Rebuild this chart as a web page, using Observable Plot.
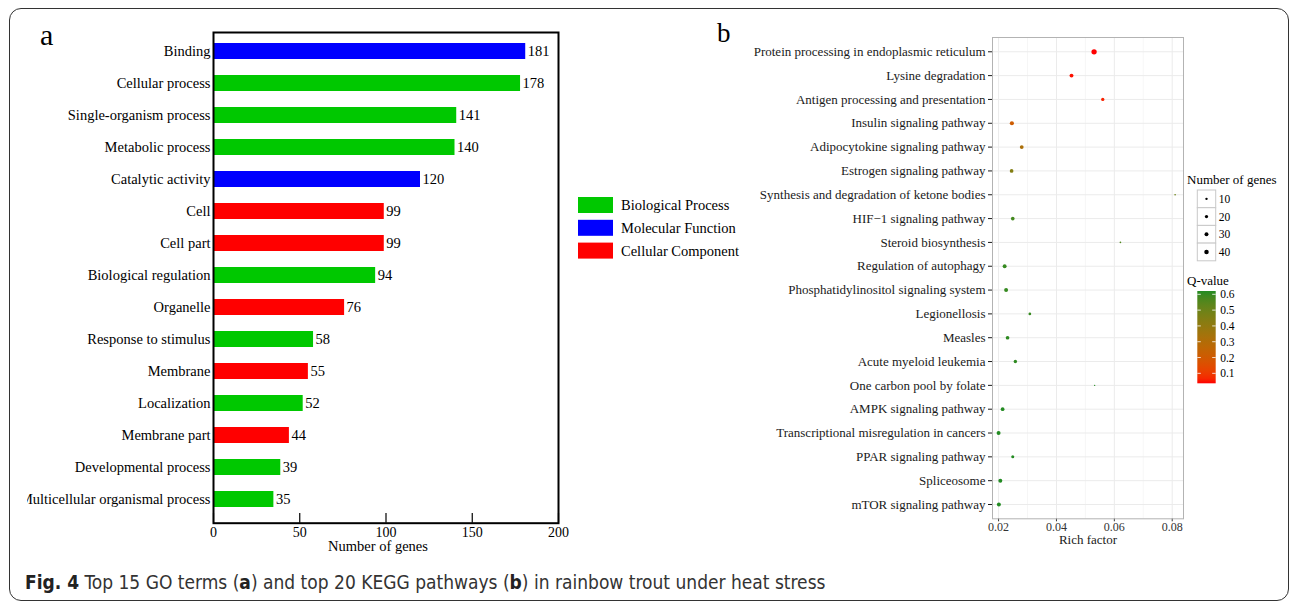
<!DOCTYPE html>
<html>
<head>
<meta charset="utf-8">
<script src="https://cdn.jsdelivr.net/npm/d3@7"></script>
<script src="https://cdn.jsdelivr.net/npm/@observablehq/plot@0.6"></script>
<style>
  html, body { margin: 0; padding: 0; background: #fff; }
  #page { position: relative; width: 1292px; height: 605px; overflow: hidden; background: #fff; }
  .abs { position: absolute; }
  #border { position: absolute; left: 9px; top: 8px; width: 1280px; height: 593px; box-sizing: border-box;
            border: 1.6px solid #333; border-radius: 12px; }
  #caption { position: absolute; left: 25px; top: 570px; font-family: "Liberation Sans Narrow", "DejaVu Sans Condensed", "Open Sans", sans-serif;
             font-size: 19px; line-height: 24px; color: #333; white-space: nowrap; }
  #caption b { color: #222; }
  .panelLetter { position: absolute; font-family: "Liberation Serif", serif; color: #000; line-height: 1; }
</style>
</head>
<body>
<div id="page">
  <div id="border"></div>
  <div class="panelLetter" style="left:40px; top:20px; font-size:30px;">a</div>
  <div class="panelLetter" style="left:717px; top:20px; font-size:27px;">b</div>
  <div id="panelA" class="abs" style="left:27px; top:0px; width:560px; height:560px; overflow:hidden;"></div>
  <div id="legendA" class="abs" style="left:570px; top:185px;"></div>
  <div id="panelB" class="abs" style="left:700px; top:0px;"></div>
  <div id="legendB" class="abs" style="left:1180px; top:165px;"></div>
  <div id="caption"><b>Fig. 4</b> Top 15 GO terms (<b>a</b>) and top 20 KEGG pathways (<b>b</b>) in rainbow trout under heat stress</div>
</div>
<script>
// ---------- Panel a data ----------
const goTerms = ["Binding","Cellular process","Single-organism process","Metabolic process","Catalytic activity","Cell","Cell part","Biological regulation","Organelle","Response to stimulus","Membrane","Localization","Membrane part","Developmental process","Multicellular organismal process"];
const goCounts = [181,178,141,140,120,99,99,94,76,58,55,52,44,39,35];
const goCategory = ["Molecular Function","Biological Process","Biological Process","Biological Process","Molecular Function","Cellular Component","Cellular Component","Biological Process","Cellular Component","Biological Process","Cellular Component","Biological Process","Cellular Component","Biological Process","Biological Process"];
const goCategoryNames = ["Biological Process","Molecular Function","Cellular Component"];
const goColors = ["#00C800","#0000FF","#FF0000"];
const xTicksA = [0,50,100,150,200];

// ---------- Panel b data ----------
const keggPathways = ["Protein processing in endoplasmic reticulum","Lysine degradation","Antigen processing and presentation","Insulin signaling pathway","Adipocytokine signaling pathway","Estrogen signaling pathway","Synthesis and degradation of ketone bodies","HIF\u22121 signaling pathway","Steroid biosynthesis","Regulation of autophagy","Phosphatidylinositol signaling system","Legionellosis","Measles","Acute myeloid leukemia","One carbon pool by folate","AMPK signaling pathway","Transcriptional misregulation in cancers","PPAR signaling pathway","Spliceosome","mTOR signaling pathway"];
const keggRich = [0.0530,0.0452,0.0560,0.0246,0.0280,0.0245,0.0810,0.0249,0.0621,0.0221,0.0226,0.0308,0.0231,0.0258,0.0532,0.0214,0.0200,0.0249,0.0206,0.0201];
const keggGenes = [58,30,20,34,28,26,4,26,4,30,30,13,26,22,3,27,31,17,31,31];
const keggQ = [0.037,0.045,0.060,0.210,0.320,0.440,0.500,0.580,0.560,0.600,0.600,0.600,0.610,0.610,0.620,0.620,0.620,0.620,0.621,0.621];
const xTicksB = [0.02,0.04,0.06,0.08];
const xMinorB = [0.03,0.05,0.07];
const sizeLegendValues = [10,20,30,40];
const qLegendValues = [0.6,0.5,0.4,0.3,0.2,0.1];

const serif = "'Liberation Serif', 'Times New Roman', serif";

// ---------- Panel a ----------
const goRows = goTerms.map((t, i) => ({term: t, count: goCounts[i], category: goCategory[i]}));
const plotA = Plot.plot({
  width: 560, height: 560,
  marginLeft: 186, marginRight: 29, marginTop: 32, marginBottom: 37.3,
  x: {domain: [0, 200]},
  y: {type: "band", domain: goTerms, range: [33.3, 516.8], paddingInner: 0.504, paddingOuter: 0.25},
  color: {domain: goCategoryNames, range: goColors},
  style: {fontFamily: serif, fontSize: "14.5px", color: "#000", background: "transparent", overflow: "visible"},
  marks: [
    Plot.barX(goRows, {x: "count", y: "term", fill: "category"}),
    Plot.text(goRows, {x: "count", y: "term", text: d => String(d.count), textAnchor: "start", dx: 2, fontSize: 14.5, fontFamily: serif}),
    Plot.ruleX(xTicksA, {insetTop: 481, stroke: "#000", strokeWidth: 1.2}),
    Plot.axisX({ticks: xTicksA, tickSize: 0, tickPadding: 4, label: null, fontSize: 14, fontFamily: serif}),
    Plot.axisY({tickSize: 0, tickPadding: 3, label: null, fontSize: 14.5, fontFamily: serif}),
    Plot.text(["Number of genes"], {text: d => d, frameAnchor: "bottom", dy: 28, dx: -8, fontSize: 14.5, fontFamily: serif}),
    Plot.frame({stroke: "#000", strokeWidth: 2})
  ]
});
document.getElementById("panelA").appendChild(plotA);

// Legend a
{
  const svg = d3.create("svg").attr("width", 180).attr("height", 90)
    .style("font-family", serif).style("font-size", "14.5px");
  goCategoryNames.forEach((name, i) => {
    const g = svg.append("g").attr("transform", `translate(8, ${12 + i * 22.8})`);
    g.append("rect").attr("x", 0).attr("y", 0).attr("width", 35).attr("height", 16).attr("fill", goColors[i]);
    g.append("text").attr("x", 43).attr("y", 8).attr("dy", "0.35em").attr("fill", "#000").text(name);
  });
  document.getElementById("legendA").appendChild(svg.node());
}

// ---------- Panel b ----------
const keggIndex = d3.range(keggPathways.length);
const kegg = keggPathways.map((p, i) => ({idx: i, pathway: p, rich: keggRich[i], genes: keggGenes[i], q: keggQ[i]}));
const plotB = Plot.plot({
  width: 490, height: 560,
  marginLeft: 292, marginRight: 7, marginTop: 37, marginBottom: 41.7,
  x: {domain: [0.0179, 0.0839]},
  y: {domain: [-0.6, keggPathways.length - 1 + 0.6], reverse: true},
  r: {type: "sqrt", domain: [1, 60], range: [0.5, 2.7]},
  color: {type: "linear", domain: [0.037, 0.621], range: ["#FF0000", "#228B22"], interpolate: "lab"},
  style: {fontFamily: serif, fontSize: "13px", color: "#1a1a1a", background: "transparent", overflow: "visible"},
  marks: [
    Plot.gridX({ticks: xMinorB, stroke: "#f2f2f2", strokeOpacity: 1, strokeWidth: 0.7}),
    Plot.gridX({ticks: xTicksB, stroke: "#ebebeb", strokeOpacity: 1, strokeWidth: 1}),
    Plot.gridY({ticks: keggIndex, stroke: "#ebebeb", strokeOpacity: 1, strokeWidth: 1}),
    Plot.dot(kegg, {x: "rich", y: "idx", r: "genes", fill: "q"}),
    Plot.axisX({ticks: xTicksB, tickFormat: d3.format(".2f"), tickSize: 3, tickPadding: 1, label: null, fontSize: 12, fontFamily: serif, color: "#333"}),
    Plot.axisY({ticks: keggIndex, tickFormat: i => keggPathways[i], tickSize: 4, tickPadding: 3, label: null, fontSize: 13, fontFamily: serif, color: "#1a1a1a"}),
    Plot.text(["Rich factor"], {text: d => d, frameAnchor: "bottom", dy: 25, fontSize: 13, fontFamily: serif}),
    Plot.frame({stroke: "#b3b3b3", strokeWidth: 1})
  ]
});
document.getElementById("panelB").appendChild(plotB);

// Legend b
{
  const rScale = plotB.scale("r");
  const cScale = plotB.scale("color");
  const svg = d3.create("svg").attr("width", 112).attr("height", 230)
    .style("font-family", serif).style("font-size", "11.5px");
  svg.append("text").attr("x", 7).attr("y", 14.3).attr("dy", "0.35em").attr("font-size", "13px").attr("fill", "#000").text("Number of genes");
  const keyX = 17.3, keyW = 18.4, keyH = 17.7, keyTop = 25;
  sizeLegendValues.forEach((v, i) => {
    const y0 = keyTop + i * keyH;
    svg.append("rect").attr("x", keyX).attr("y", y0).attr("width", keyW).attr("height", keyH)
      .attr("fill", "#fff").attr("stroke", "#c8c8c8").attr("stroke-width", 1);
    svg.append("circle").attr("cx", keyX + keyW / 2).attr("cy", y0 + keyH / 2).attr("r", rScale.apply(v)).attr("fill", "#000");
    svg.append("text").attr("x", keyX + keyW + 3).attr("y", y0 + keyH / 2).attr("dy", "0.35em").attr("fill", "#000").text(String(v));
  });
  svg.append("text").attr("x", 7).attr("y", 115).attr("dy", "0.35em").attr("font-size", "13px").attr("fill", "#000").text("Q-value");
  const barTop = 126, barBottom = 218.3, barX = 17.3, barW = 18.4;
  const qTop = 0.621, qBottom = 0.037;
  const qy = q => barTop + (qTop - q) / (qTop - qBottom) * (barBottom - barTop);
  const grad = svg.append("defs").append("linearGradient").attr("id", "qgrad")
    .attr("x1", 0).attr("y1", 0).attr("x2", 0).attr("y2", 1);
  d3.range(0, 21).forEach(k => {
    const t = k / 20;
    grad.append("stop").attr("offset", t).attr("stop-color", cScale.apply(qTop - t * (qTop - qBottom)));
  });
  svg.append("rect").attr("x", barX).attr("y", barTop).attr("width", barW).attr("height", barBottom - barTop).attr("fill", "url(#qgrad)");
  qLegendValues.forEach(q => {
    const y = qy(q);
    svg.append("line").attr("x1", barX).attr("x2", barX + 3.5).attr("y1", y).attr("y2", y).attr("stroke", "#fff").attr("stroke-opacity", 0.8);
    svg.append("line").attr("x1", barX + barW - 3.5).attr("x2", barX + barW).attr("y1", y).attr("y2", y).attr("stroke", "#fff").attr("stroke-opacity", 0.8);
    svg.append("text").attr("x", barX + barW + 4.5).attr("y", y).attr("dy", "0.35em").attr("fill", "#000").text(q.toFixed(1));
  });
  document.getElementById("legendB").appendChild(svg.node());
}
</script>
</body>
</html>
